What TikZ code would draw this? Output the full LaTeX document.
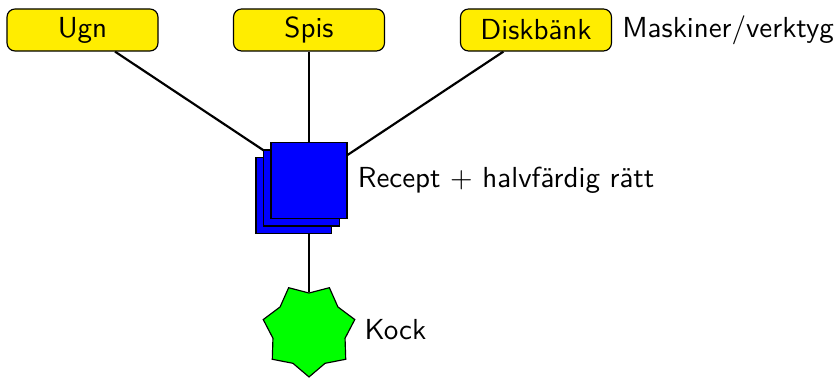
\documentclass[tikz,border=0pt]{standalone}
\usetikzlibrary{shapes.geometric,shadows,backgrounds}
\definecolor{toolyellow}{RGB}{255,237,0}
\tikzset{
  x=0.345pt, y=-0.345pt,
  every node/.style={font=\sffamily},
  tool/.style={draw=black, fill=toolyellow, rounded corners=2.8pt,
    minimum width=52.1pt, minimum height=14.5pt, inner sep=0pt, line width=0.4pt},
  recipe/.style={draw=black, fill=blue, minimum size=26.2pt, inner sep=0pt, line width=0.4pt,
    general shadow={shadow xshift=-5.2pt, shadow yshift=-5.2pt, draw=black, fill=blue},
    general shadow={shadow xshift=-2.6pt, shadow yshift=-2.6pt, draw=black, fill=blue}},
  cook/.style={star, star points=7, star point ratio=1.27, shape border rotate=180,
    draw=black, fill=green, minimum size=32.4pt, inner sep=0pt, line width=0.4pt},
  link/.style={draw=black, line width=0.75pt},
}
\begin{document}
\begin{tikzpicture}
  \useasboundingbox (0,0) rectangle (839,378);

  % machines and tools
  \node[tool] (ugn) at (82.5,30) {Ugn};
  \node[tool] (spis) at (309,30) {Spis};
  \node[tool, label={[font=\sffamily]right:Maskiner/verktyg}] (disk) at (536,30) {Diskbänk};

  % recipe with half-finished dish
  \node[recipe, label={[font=\sffamily]right:Recept $+$ halvfärdig rätt}] (recept) at (309,180.5) {};

  % the cook
  \node[cook, label={[font=\sffamily, label distance=1.5pt]right:Kock}] (kock) at (309,330) {};

  % connectors behind the shapes
  \begin{scope}[on background layer]
    \draw[link] (ugn) -- (recept);
    \draw[link] (spis) -- (recept);
    \draw[link] (disk) -- (recept);
    \draw[link] (recept) -- (kock);
  \end{scope}
\end{tikzpicture}
\end{document}
